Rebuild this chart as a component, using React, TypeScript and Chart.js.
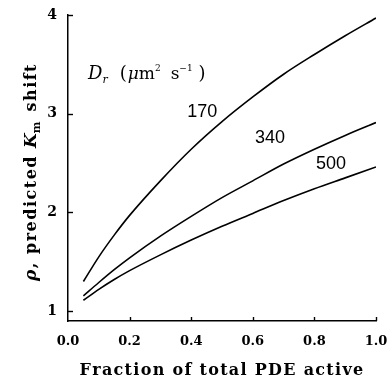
import React, { useEffect, useRef } from 'react';
import { Chart, registerables } from 'chart.js';

Chart.register(...registerables);

// Fraction of total PDE active (x values)
const fraction = [0.05, 0.1, 0.15, 0.2, 0.3, 0.4, 0.5, 0.6, 0.7, 0.8, 0.9, 1.0];
// rho, predicted Km shift for each Dr (µm² s⁻¹)
const rho170 = [1.3, 1.55, 1.77, 1.97, 2.32, 2.64, 2.92, 3.17, 3.4, 3.6, 3.79, 3.97];
const rho340 = [1.155, 1.29, 1.42, 1.54, 1.76, 1.96, 2.15, 2.32, 2.49, 2.64, 2.78, 2.91];
const rho500 = [1.11, 1.22, 1.32, 1.41, 1.57, 1.72, 1.86, 1.99, 2.12, 2.24, 2.35, 2.46];

const xTicks = [0, 0.2, 0.4, 0.6, 0.8, 1.0];
const yTicks = [1, 2, 3, 4];

const xTitle = 'Fraction of total PDE active';
const curveLabels = ['170', '340', '500'];
// label anchors, in data coordinates
const curveLabelX = [0.436, 0.656, 0.854];
const curveLabelY = [3.02, 2.755, 2.495];
const legendTitleX = 0.065;
const legendTitleY = 3.35;

const SERIF = '"DejaVu Serif", serif';
const SANS = '"Liberation Sans", Arial, sans-serif';

type Piece = { text: string; font: string; dy?: number; gap?: number; sp?: number };

function spacedWidth(ctx: CanvasRenderingContext2D, text: string, sp: number) {
  let w = 0;
  for (const ch of Array.from(text)) w += ctx.measureText(ch).width + sp;
  return w;
}

function drawSpaced(ctx: CanvasRenderingContext2D, text: string, x: number, y: number, sp: number) {
  let cx = x;
  ctx.textAlign = 'left';
  for (const ch of Array.from(text)) {
    ctx.fillText(ch, cx, y);
    cx += ctx.measureText(ch).width + sp;
  }
  return cx;
}

function drawPieces(ctx: CanvasRenderingContext2D, pieces: Piece[], x: number, y: number, align: 'left' | 'center') {
  let total = 0;
  const widths = pieces.map((p) => {
    ctx.font = p.font;
    const w = spacedWidth(ctx, p.text, p.sp || 0) + (p.gap || 0);
    total += w;
    return w;
  });
  let cx = align === 'center' ? x - total / 2 : x;
  ctx.textBaseline = 'alphabetic';
  pieces.forEach((p, i) => {
    ctx.font = p.font;
    drawSpaced(ctx, p.text, cx, y + (p.dy || 0), p.sp || 0);
    cx += widths[i];
  });
}

const decorPlugin = {
  id: 'decor',
  afterDraw(chart: any) {
    const ctx: CanvasRenderingContext2D = chart.ctx;
    const xs = chart.scales.x;
    const ys = chart.scales.y;
    const area = chart.chartArea;
    ctx.save();
    ctx.strokeStyle = '#000';
    ctx.fillStyle = '#000';
    ctx.lineWidth = 1.4;
    // inward ticks
    yTicks.forEach((t) => {
      const py = Math.round(ys.getPixelForValue(t)) + 0.5;
      ctx.beginPath();
      ctx.moveTo(area.left, py);
      ctx.lineTo(area.left + 5, py);
      ctx.stroke();
    });
    xTicks.forEach((t) => {
      if (t === 0) return;
      const px = Math.round(xs.getPixelForValue(t)) + 0.5;
      ctx.beginPath();
      ctx.moveTo(px, area.bottom);
      ctx.lineTo(px, area.bottom - 4);
      ctx.stroke();
    });

    // x-axis title
    drawPieces(ctx, [{ text: xTitle, font: `bold 16px ${SERIF}`, sp: 1.3 }], (area.left + area.right) / 2, 375, 'center');

    // y-axis title (rotated)
    ctx.save();
    ctx.translate(30, 172);
    ctx.rotate(-Math.PI / 2);
    drawPieces(
      ctx,
      [
        { text: 'ρ', font: `italic bold 17px ${SERIF}`, sp: 1.5 },
        { text: ', predicted ', font: `bold 16px ${SERIF}`, sp: 1.5 },
        { text: 'K', font: `italic bold 17px ${SERIF}` },
        { text: 'm', font: `bold 11px ${SERIF}`, dy: 4, gap: 10 },
        { text: 'shift', font: `bold 16px ${SERIF}`, sp: 1.5 },
      ],
      0,
      6,
      'center'
    );
    ctx.restore();

    // legend title D_r (µm² s⁻¹)
    const lx = xs.getPixelForValue(legendTitleX);
    const ly = ys.getPixelForValue(legendTitleY);
    drawPieces(
      ctx,
      [
        { text: 'D', font: `italic 18px ${SERIF}` },
        { text: 'r', font: `italic 11px ${SERIF}`, dy: 4, gap: 12 },
        { text: '(', font: `18px ${SERIF}`, gap: 1 },
        { text: 'μ', font: `italic 17px ${SERIF}` },
        { text: 'm', font: `17px ${SERIF}` },
        { text: '2', font: `9px ${SERIF}`, dy: -8, gap: 10 },
        { text: 's', font: `17px ${SERIF}` },
        { text: '−1', font: `9px ${SERIF}`, dy: -8, gap: 6 },
        { text: ')', font: `18px ${SERIF}` },
      ],
      lx,
      ly,
      'left'
    );

    // curve labels
    ctx.font = `18px ${SANS}`;
    ctx.textAlign = 'center';
    ctx.textBaseline = 'middle';
    curveLabels.forEach((lab, i) => {
      ctx.fillText(lab, xs.getPixelForValue(curveLabelX[i]), ys.getPixelForValue(curveLabelY[i]));
    });
    ctx.restore();
  },
};

export default function App() {
  const ref = useRef<HTMLCanvasElement | null>(null);
  useEffect(() => {
    if (!ref.current) return;
    const mk = (data: number[]) => ({
      data: fraction.map((f, i) => ({ x: f, y: data[i] })),
      borderColor: '#000',
      borderWidth: 1.6,
      pointRadius: 0,
      fill: false,
      cubicInterpolationMode: 'monotone' as const,
    });
    const chart = new Chart(ref.current, {
      type: 'line',
      data: {
        datasets: [mk(rho170), mk(rho340), mk(rho500)],
      },
      options: {
        animation: false,
        responsive: false,
        layout: { padding: { top: 15, right: 16, left: 0, bottom: 0 } },
        plugins: { legend: { display: false }, tooltip: { enabled: false } },
        scales: {
          x: {
            type: 'linear',
            min: 0,
            max: 1,
            afterBuildTicks: (s: any) => {
              s.ticks = xTicks.map((v) => ({ value: v }));
            },
            afterFit: (s: any) => {
              s.height = 60;
              s.paddingLeft = 0;
              s.paddingRight = 0;
            },
            grid: { display: false, drawTicks: false },
            border: { display: true, color: '#000', width: 1.5 },
            ticks: {
              color: '#000',
              padding: 13,
              maxRotation: 0,
              font: { family: SERIF, size: 13, weight: 'bold' },
              callback: (v: any) => Number(v).toFixed(1),
            },
          },
          y: {
            type: 'linear',
            min: 0.9,
            max: 4,
            afterBuildTicks: (s: any) => {
              s.ticks = yTicks.map((v) => ({ value: v }));
            },
            afterFit: (s: any) => {
              s.width = 68;
              s.paddingTop = 0;
              s.paddingBottom = 0;
            },
            grid: { display: false, drawTicks: false },
            border: { display: true, color: '#000', width: 1.5 },
            ticks: {
              color: '#000',
              padding: 11,
              font: { family: SERIF, size: 14, weight: 'bold' },
              callback: (v: any) => String(v),
            },
          },
        },
      },
      plugins: [decorPlugin],
    });
    return () => chart.destroy();
  }, []);
  return (
    <div style={{ position: 'fixed', left: 0, top: 0, width: 392, height: 381, background: '#fff' }}>
      <canvas ref={ref} width={392} height={381} />
    </div>
  );
}
